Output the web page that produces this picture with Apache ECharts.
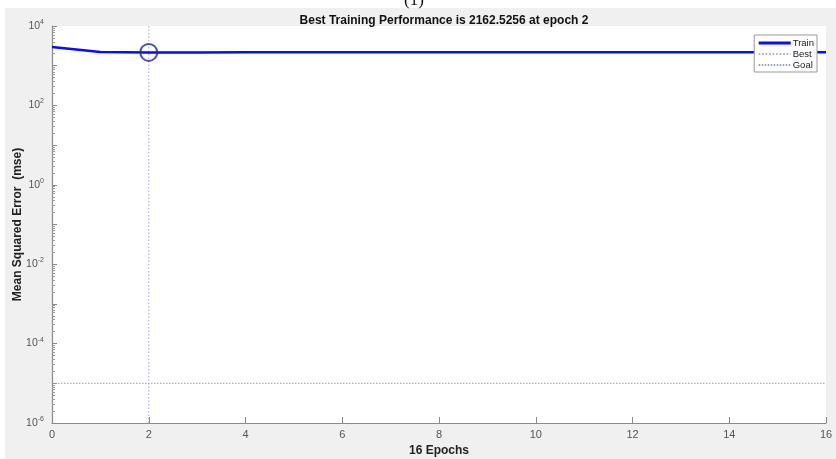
<!DOCTYPE html>
<html>
<head>
<meta charset="utf-8">
<script src="https://cdn.jsdelivr.net/npm/echarts@6/dist/echarts.min.js"></script>
<style>
html,body{margin:0;padding:0;background:#fff;}
#c{width:836px;height:459px;}
</style>
</head>
<body>
<div id="c"></div>
<script>
var epochs = [0,1,2,3,4,5,6,7,8,9,10,11,12,13,14,15,16];
var trainMSE = [2950,2200,2162.5256,2165,2166,2166,2167,2167,2167,2167,2168,2168,2168,2168,2168,2168,2168];
var bestEpoch = 2;
var bestValue = 2162.5256;
var goalValue = 1e-5;
var xTicks = [0,2,4,6,8,10,12,14,16];
var yMinExp = -6, yMaxExp = 4;

var chart = echarts.init(document.getElementById('c'));
var trainData = epochs.map(function(e,i){return [e, trainMSE[i]];});
var font = 'Liberation Sans, Arial, sans-serif';
chart.setOption({
  backgroundColor: '#f0f0f0',
  animation: false,
  title: {
    text: 'Best Training Performance is 2162.5256 at epoch 2',
    left: 439, top: 10, textAlign: 'center',
    textStyle: {fontSize: 12, fontWeight: 'bold', color: '#111', fontFamily: font}
  },
  graphic: [
    {type:'rect', shape:{x:0,y:0,width:836,height:8}, style:{fill:'#fff'}, z:-1},
    {type:'rect', shape:{x:0,y:0,width:5,height:459}, style:{fill:'#fff'}, z:-1},
    {type:'text', left: 404, top: -8, style:{text:'(1)', font:'17px "Liberation Serif", serif', fill:'#111'}}
  ],
  grid: {left: 52, right: 10, top: 26, bottom: 36, show: true, backgroundColor: '#fff', borderWidth: 0, containLabel: false, outerBoundsMode: 'none'},
  legend: {
    right: 19, top: 35, orient: 'vertical',
    backgroundColor: '#fff', borderColor: '#999', borderWidth: 1, borderRadius: 0,
    padding: [3, 3, 2, 3], itemGap: 1, itemWidth: 32, itemHeight: 10,
    itemStyle: {opacity: 0},
    textStyle: {fontSize: 9.5, color: '#222', fontFamily: font, padding: [0,0,0,-3]},
    data: [{name:'Train', lineStyle:{width:3}}, 'Best', 'Goal']
  },
  xAxis: {
    type: 'value', min: 0, max: 16, interval: 2,
    name: '16 Epochs', nameLocation: 'middle', nameGap: 22, nameMoveOverlap: false,
    nameTextStyle: {fontSize: 12, fontWeight: 'bold', color: '#222', fontFamily: font},
    axisLine: {lineStyle: {color: '#8a8a8a', width: 1.2}},
    axisTick: {inside: true, length: 6, lineStyle: {color: '#8a8a8a'}},
    axisLabel: {fontSize: 11, color: '#555', fontFamily: font, margin: 6},
    splitLine: {show: false}
  },
  yAxis: {
    type: 'log', logBase: 10, min: Math.pow(10,yMinExp), max: Math.pow(10,yMaxExp), interval: 1,
    name: 'Mean Squared Error  (mse)', nameLocation: 'middle', nameGap: 28, nameMoveOverlap: false,
    nameTextStyle: {fontSize: 12, fontWeight: 'bold', color: '#222', fontFamily: font},
    axisLine: {lineStyle: {color: '#8a8a8a', width: 1.2}},
    axisTick: {inside: true, length: 5, lineStyle: {color: '#8a8a8a'}},
    minorTick: {show: true, splitNumber: 9, length: 3, lineStyle: {color: '#9a9a9a'}},
    axisLabel: {
      fontFamily: font, margin: 8,
      formatter: function(v){
        var e = Math.round(Math.log(v)/Math.LN10);
        if (e % 2 !== 0) return '';
        return '{b|10}{s|' + e + '}';
      },
      rich: {
        b: {fontSize: 10.5, color: '#555', fontFamily: font},
        s: {fontSize: 7, color: '#555', fontFamily: font, padding: [0,0,8,0]}
      }
    },
    splitLine: {show: false}
  },
  series: [
    {
      name: 'Train', type: 'line', data: trainData, symbol: 'none',
      lineStyle: {color: '#0a0aff', width: 2.5}, itemStyle: {color: '#0a0aff'}, z: 3
    },
    {
      name: 'Best', type: 'line', symbol: 'none',
      data: [[bestEpoch, Math.pow(10,yMinExp)], [bestEpoch, Math.pow(10,yMaxExp)]],
      lineStyle: {color: '#a8a8e0', width: 1, type: [1.5,2]}, itemStyle: {color: '#a8a8e0'}, z: 2
    },
    {
      name: 'Goal', type: 'line', symbol: 'none',
      data: [[0, goalValue], [16, goalValue]],
      lineStyle: {color: '#9aa0b4', width: 1, type: [1.5,1.5]}, itemStyle: {color: '#9aa0b4'}, z: 2
    },
    {
      name: 'BestPoint', type: 'scatter', data: [[bestEpoch, bestValue]],
      symbol: 'circle', symbolSize: 17,
      itemStyle: {color: 'rgba(0,0,0,0)', borderColor: '#2424a0', borderWidth: 2}, z: 4
    }
  ]
});
</script>
</body>
</html>
